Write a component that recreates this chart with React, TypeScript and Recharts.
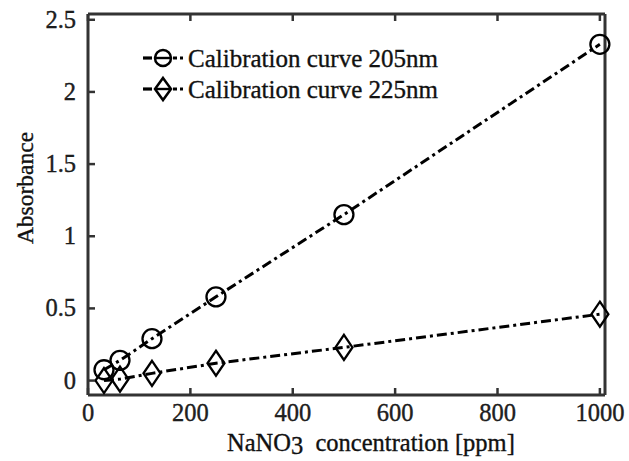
import React from 'react';
import { LineChart, Line, XAxis, YAxis } from 'recharts';

const concentrations = [31.25, 62.5, 125, 250, 500, 1000];
const abs205 = [0.075, 0.14, 0.29, 0.58, 1.15, 2.33];
const abs225 = [0.0, 0.01, 0.05, 0.12, 0.23, 0.46];
const xTicks = [0, 200, 400, 600, 800, 1000];
const yTicks = [0, 0.5, 1, 1.5, 2, 2.5];
const seriesNames = ['Calibration curve 205nm', 'Calibration curve 225nm'];

const data = concentrations.map((c, i) => ({ x: c, a205: abs205[i], a225: abs225[i] }));

const FONT = "'Liberation Serif', 'Times New Roman', Times, serif";
const AXIS_COLOR = '#333';
const DASH = '10 4 3 4';

const textStyle = (size: number) => ({ fontFamily: FONT, fontSize: size, stroke: '#111', strokeWidth: 0.35 });

const CircleDot = (props: any) => {
  const { cx, cy } = props;
  if (cx == null || cy == null) return null;
  return <circle cx={cx} cy={cy} r={9.5} fill="none" stroke="#000" strokeWidth={2.3} />;
};

const DiamondDot = (props: any) => {
  const { cx, cy } = props;
  if (cx == null || cy == null) return null;
  const w = 8.5, h = 12.5;
  return (
    <path
      d={`M${cx},${cy - h} L${cx + w},${cy} L${cx},${cy + h} L${cx - w},${cy} Z`}
      fill="none"
      stroke="#000"
      strokeWidth={2.3}
    />
  );
};

const BottomTick = (props: any) => {
  const { x, y, payload } = props;
  return (
    <g>
      <line x1={x} y1={y} x2={x} y2={y - 7} stroke={AXIS_COLOR} strokeWidth={2.5} />
      <text x={x} y={y + 26} textAnchor="middle" style={textStyle(24.5)} fill="#222">
        {payload.value}
      </text>
    </g>
  );
};

const TopTick = (props: any) => {
  const { x, y } = props;
  return <line x1={x} y1={y} x2={x} y2={y + 7} stroke={AXIS_COLOR} strokeWidth={2.5} />;
};

const LeftTick = (props: any) => {
  const { x, y, payload } = props;
  return (
    <g>
      <line x1={x} y1={y} x2={x + 7} y2={y} stroke={AXIS_COLOR} strokeWidth={2.5} />
      <text x={x - 12} y={y + 8} textAnchor="end" style={textStyle(24.5)} fill="#222">
        {payload.value}
      </text>
    </g>
  );
};

const RightTick = (props: any) => {
  const { x, y } = props;
  return <line x1={x} y1={y} x2={x - 7} y2={y} stroke={AXIS_COLOR} strokeWidth={2.5} />;
};

export default function App() {
  return (
    <div style={{ position: 'absolute', left: 0, top: 0, background: '#fff' }}>
      <LineChart
        width={629}
        height={461}
        data={data}
        margin={{ top: 13, right: 23, bottom: 6, left: 8 }}
      >
        <XAxis
          xAxisId="bottom"
          dataKey="x"
          type="number"
          domain={[0, 1010]}
          ticks={xTicks}
          orientation="bottom"
          height={60}
          tickSize={0}
          tickMargin={0}
          tickLine={false}
          axisLine={{ stroke: AXIS_COLOR, strokeWidth: 3 }}
          tick={<BottomTick />}
          interval={0}
        />
        <XAxis
          xAxisId="top"
          dataKey="x"
          type="number"
          domain={[0, 1010]}
          ticks={xTicks}
          orientation="top"
          height={1}
          tickSize={0}
          tickMargin={0}
          tickLine={false}
          axisLine={{ stroke: AXIS_COLOR, strokeWidth: 3 }}
          tick={<TopTick />}
          interval={0}
        />
        <YAxis
          yAxisId="left"
          type="number"
          domain={[-0.1, 2.54]}
          ticks={yTicks}
          orientation="left"
          width={80}
          tickSize={0}
          tickMargin={0}
          tickLine={false}
          axisLine={{ stroke: AXIS_COLOR, strokeWidth: 3 }}
          tick={<LeftTick />}
          interval={0}
        />
        <YAxis
          yAxisId="right"
          type="number"
          domain={[-0.1, 2.54]}
          ticks={yTicks}
          orientation="right"
          width={1}
          tickSize={0}
          tickMargin={0}
          tickLine={false}
          axisLine={{ stroke: AXIS_COLOR, strokeWidth: 3 }}
          tick={<RightTick />}
          interval={0}
        />
        <Line
          xAxisId="bottom"
          yAxisId="left"
          dataKey="a205"
          name={seriesNames[0]}
          stroke="#000"
          strokeWidth={3}
          strokeDasharray={DASH}
          dot={<CircleDot />}
          activeDot={false}
          isAnimationActive={false}
        />
        <Line
          xAxisId="bottom"
          yAxisId="left"
          dataKey="a225"
          name={seriesNames[1]}
          stroke="#000"
          strokeWidth={3}
          strokeDasharray={DASH}
          dot={<DiamondDot />}
          activeDot={false}
          isAnimationActive={false}
        />
        <g>
          {seriesNames.map((name, i) => {
            const cy = 58 + i * 31;
            return (
              <g key={name}>
                <line x1={143} y1={cy} x2={152} y2={cy} stroke="#000" strokeWidth={3.2} />
                <line x1={173} y1={cy} x2={177} y2={cy} stroke="#000" strokeWidth={3} />
                <line x1={180} y1={cy} x2={183} y2={cy} stroke="#000" strokeWidth={3} />
                {i === 0 ? (
                  <>
                    <circle cx={163} cy={cy} r={8} fill="none" stroke="#000" strokeWidth={2.5} />
                    <line x1={155} y1={cy} x2={171} y2={cy} stroke="#000" strokeWidth={2.4} />
                  </>
                ) : (
                  <>
                    <path d={`M163,${cy - 11} L171,${cy} L163,${cy + 11} L155,${cy} Z`} fill="none" stroke="#000" strokeWidth={2.5} />
                    <line x1={155} y1={cy} x2={171} y2={cy} stroke="#000" strokeWidth={2.4} />
                  </>
                )}
                <text x={188} y={cy + 9} style={textStyle(25)} fill="#111">
                  {name}
                </text>
              </g>
            );
          })}
        </g>
        <text
          x={33}
          y={188}
          transform="rotate(-90 33 188)"
          textAnchor="middle"
          style={textStyle(23.5)}
          fill="#111"
        >
          Absorbance
        </text>
        <text x={227} y={451} textAnchor="start" style={textStyle(24.5)} fill="#111">
          NaNO<tspan dy={3}>3</tspan>
          <tspan dy={-3}>{'\u00a0\u00a0concentration [ppm]'}</tspan>
        </text>
      </LineChart>
    </div>
  );
}
